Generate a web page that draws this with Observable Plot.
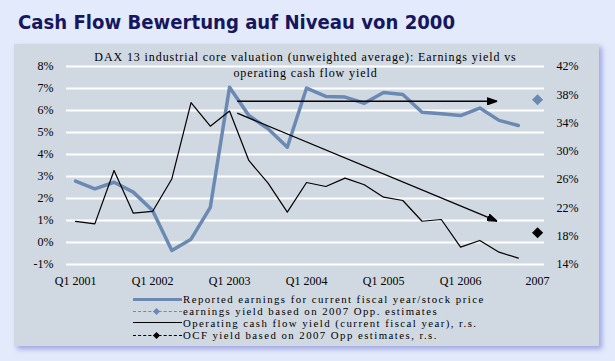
<!DOCTYPE html>
<html><head><meta charset="utf-8">
<script src="https://cdn.jsdelivr.net/npm/d3@7"></script>
<script src="https://cdn.jsdelivr.net/npm/@observablehq/plot@0.6"></script>
<style>
body{margin:0;background:#e3eafb;width:615px;height:361px;overflow:hidden;font-family:"Liberation Serif",serif;}
#wrap{position:relative;width:615px;height:361px;}
#title{position:absolute;left:18px;top:10px;font:bold 20px "DejaVu Sans",sans-serif;color:#16175e;white-space:nowrap;transform:scaleX(0.905);transform-origin:0 0;}
#panel{position:absolute;left:14px;top:44px;width:585px;height:302px;background:#d0d8e1;box-shadow:3px 3px 5px rgba(110,120,210,0.6);}
#chart{position:absolute;left:0;top:44px;}
#legend{position:absolute;left:133px;top:293px;font-size:10.8px;line-height:12px;letter-spacing:1.45px;color:#000;}
.row{display:flex;align-items:center;height:12px;white-space:nowrap;}
.sw{position:relative;width:49px;height:12px;margin-right:1px;}
.sw .ln{position:absolute;left:0;right:0;top:50%;}
.sw .dm{position:absolute;left:21px;top:3.5px;width:5px;height:5px;transform:rotate(45deg);}
</style></head>
<body><div id="wrap">
<div id="title"></div>
<div id="panel"></div>
<div id="chart"></div>
<div id="legend"></div>
</div>
<script>
const titleText = "Cash Flow Bewertung auf Niveau von 2000";
const subtitleText = "DAX 13 industrial core valuation (unweighted average): Earnings yield vs\noperating cash flow yield";
const quarterIndex = [0,1,2,3,4,5,6,7,8,9,10,11,12,13,14,15,16,17,18,19,20,21,22,23];
const earningsYield = [2.79,2.44,2.74,2.29,1.45,-0.36,0.15,1.6,7.06,5.77,5.17,4.33,7.02,6.64,6.61,6.33,6.82,6.73,5.92,5.85,5.77,6.11,5.55,5.32];
const ocfYield = [20.1,19.75,27.3,21.26,21.5,26.1,36.9,33.56,35.7,28.71,25.5,21.4,25.6,25.03,26.21,25.27,23.52,23.05,20.12,20.36,16.45,17.4,15.74,14.9];
const tickIndex = [0,4,8,12,16,20,24];
const tickLabels = ["Q1 2001","Q1 2002","Q1 2003","Q1 2004","Q1 2005","Q1 2006","2007"];
const leftTicks = [-1,0,1,2,3,4,5,6,7,8];
const rightTicks = [14,18,22,26,30,34,38,42];
const estimateIndex = 24;
const earningsEstimate = 6.49;
const ocfEstimate = 18.48;
const arrowStartX = [8.4, 8.4];
const arrowStartY = [6.42, 5.88];
const arrowEndX = [21.9, 21.9];
const arrowEndY = [6.42, 0.97];
const legendLabels = [
  "Reported earnings for current fiscal year/stock price",
  "earnings yield based on 2007 Opp. estimates",
  "Operating cash flow yield (current fiscal year), r.s.",
  "OCF yield based on 2007 Opp estimates, r.s."
];
const blue = "#6a89b3";

// right axis (14%..42%) mapped onto left axis (-1%..8%)
const toLeft = v => (v - 14) * 9 / 28 - 1;
const toRight = v => Math.round((v + 1) * 28 / 9 + 14);

const rows = quarterIndex.map((q, i) => ({q, e: earningsYield[i], o: ocfYield[i]}));
const arrows = arrowStartX.map((x, i) => ({x1: x, y1: arrowStartY[i], x2: arrowEndX[i], y2: arrowEndY[i]}));

function solidArrow(color, context) {
  const ns = "http://www.w3.org/2000/svg";
  const doc = (context && context.document) || document;
  const m = doc.createElementNS(ns, "marker");
  m.setAttribute("viewBox", "-10 -4 10 8");
  m.setAttribute("markerWidth", 10);
  m.setAttribute("markerHeight", 8);
  m.setAttribute("markerUnits", "userSpaceOnUse");
  m.setAttribute("orient", "auto");
  m.setAttribute("refX", 0);
  m.setAttribute("refY", 0);
  const p = doc.createElementNS(ns, "path");
  p.setAttribute("d", "M-10,-3.5L0,0L-10,3.5Z");
  p.setAttribute("fill", "black");
  m.appendChild(p);
  return m;
}

document.getElementById("title").textContent = titleText;

const plot = Plot.plot({
  width: 615,
  height: 250,
  marginTop: 22,
  marginBottom: 30,
  marginLeft: 66,
  marginRight: 71,
  style: {background: "transparent", fontFamily: "Liberation Serif, serif", fontSize: "12px", color: "black", overflow: "visible"},
  x: {domain: [-0.47, 24.36], axis: null},
  y: {domain: [-1, 8], axis: null},
  marks: [
    Plot.ruleY(leftTicks, {stroke: "white", strokeWidth: 2}),
    Plot.axisY(leftTicks, {anchor: "left", tickSize: 0, tickPadding: 13, tickFormat: d => d + "%"}),
    Plot.axisY(rightTicks.map(toLeft), {anchor: "right", tickSize: 0, tickPadding: 12, tickFormat: d => toRight(d) + "%"}),
    Plot.axisX(tickIndex, {anchor: "bottom", tickSize: 0, tickPadding: 12, tickFormat: (d) => tickLabels[tickIndex.indexOf(d)]}),
    Plot.text([subtitleText], {frameAnchor: "top", lineAnchor: "middle", dy: -3, lineHeight: 1.333, text: d => d, fontSize: 12}),
    Plot.line(rows, {x: "q", y: "e", stroke: blue, strokeWidth: 3.5}),
    Plot.line(rows, {x: "q", y: d => toLeft(d.o), stroke: "black", strokeWidth: 1.2}),
    Plot.link(arrows, {x1: "x1", y1: "y1", x2: "x2", y2: "y2", stroke: "black", strokeWidth: 1.3, markerEnd: solidArrow}),
    Plot.dot([earningsEstimate], {x: () => estimateIndex, y: d => d, symbol: "diamond2", r: 5, fill: blue, stroke: null}),
    Plot.dot([ocfEstimate], {x: () => estimateIndex, y: d => toLeft(d), symbol: "diamond2", r: 5, fill: "black", stroke: null})
  ]
});
d3.select(plot).selectAll('g[aria-label="text"]').attr("letter-spacing", "0.9px");
document.getElementById("chart").appendChild(plot);

const legendStyles = [
  {line: `border-top:3px solid ${blue};margin-top:-1.5px`, dot: null},
  {line: `border-top:1px dashed ${blue};margin-top:-0.5px`, dot: blue},
  {line: `border-top:1.5px solid #000;margin-top:-0.75px`, dot: null},
  {line: `border-top:1px dashed #000;margin-top:-0.5px`, dot: "#000"}
];
const legend = document.getElementById("legend");
legendLabels.forEach((label, i) => {
  const r = document.createElement("div");
  r.className = "row";
  const s = legendStyles[i];
  r.innerHTML = `<span class="sw"><span class="ln" style="${s.line}"></span>${s.dot ? `<span class="dm" style="background:${s.dot}"></span>` : ""}</span><span>${label}</span>`;
  legend.appendChild(r);
});
</script>
</body></html>
